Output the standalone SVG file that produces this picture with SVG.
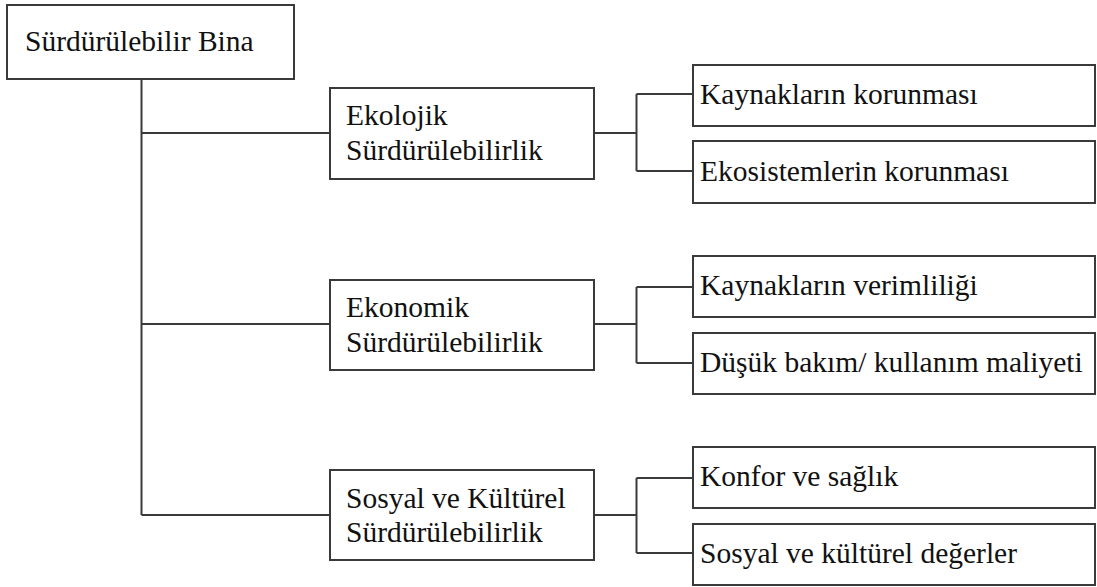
<svg xmlns="http://www.w3.org/2000/svg" width="1097" height="587" viewBox="0 0 1097 587">
  <style>
    .box { fill: #ffffff; stroke: #3a3a3a; stroke-width: 2; }
    .line { fill: none; stroke: #3a3a3a; stroke-width: 2; }
    .lbl { font-family: 'Liberation Serif', 'Times New Roman', serif; font-size: 29.5px; fill: #111111; }
  </style>
  <rect width="1097" height="587" fill="#ffffff"/>

  <!-- connectors -->
  <g id="connectors">
    <!-- trunk from the root -->
    <path class="line" d="M141.5 79 V515 M141.5 133 H330 M141.5 324 H330 M141.5 515 H330"/>
    <!-- ecological branch -->
    <path class="line" d="M594 133 H636.5 M636.5 94 V171 M636.5 94 H693 M636.5 171 H693"/>
    <!-- economic branch -->
    <path class="line" d="M594 324 H636.5 M636.5 287 V363 M636.5 287 H693 M636.5 363 H693"/>
    <!-- social and cultural branch -->
    <path class="line" d="M594 515 H636.5 M636.5 478 V553 M636.5 478 H693 M636.5 553 H693"/>
  </g>

  <g id="root">
    <rect class="box" x="7" y="5" width="287" height="74"/>
    <text class="lbl" x="25" y="50.5">Sürdürülebilir Bina</text>
  </g>

  <g id="ekolojik">
    <rect class="box" x="330" y="88" width="264" height="91"/>
    <text class="lbl" x="346" y="125">Ekolojik</text>
    <text class="lbl" x="346" y="160">Sürdürülebilirlik</text>
  </g>

  <g id="ekonomik">
    <rect class="box" x="330" y="280" width="264" height="90"/>
    <text class="lbl" x="346" y="316.5">Ekonomik</text>
    <text class="lbl" x="346" y="351.5">Sürdürülebilirlik</text>
  </g>

  <g id="sosyal">
    <rect class="box" x="330" y="470" width="264" height="90"/>
    <text class="lbl" x="346" y="508">Sosyal ve Kültürel</text>
    <text class="lbl" x="346" y="541.5">Sürdürülebilirlik</text>
  </g>

  <g id="kaynak-koruma">
    <rect class="box" x="693" y="65" width="402" height="61"/>
    <text class="lbl" x="700" y="103.5">Kaynakların korunması</text>
  </g>

  <g id="ekosistem-koruma">
    <rect class="box" x="693" y="141" width="402" height="62"/>
    <text class="lbl" x="700" y="180.5">Ekosistemlerin korunması</text>
  </g>

  <g id="kaynak-verim">
    <rect class="box" x="693" y="256" width="402" height="61"/>
    <text class="lbl" x="700" y="294.5">Kaynakların verimliliği</text>
  </g>

  <g id="maliyet">
    <rect class="box" x="693" y="333" width="402" height="61"/>
    <text class="lbl" x="700" y="371.5">Düşük bakım/ kullanım maliyeti</text>
  </g>

  <g id="konfor">
    <rect class="box" x="693" y="447" width="402" height="61"/>
    <text class="lbl" x="700" y="485.5">Konfor ve sağlık</text>
  </g>

  <g id="degerler">
    <rect class="box" x="693" y="524" width="402" height="61"/>
    <text class="lbl" x="700" y="562.5">Sosyal ve kültürel değerler</text>
  </g>
</svg>
